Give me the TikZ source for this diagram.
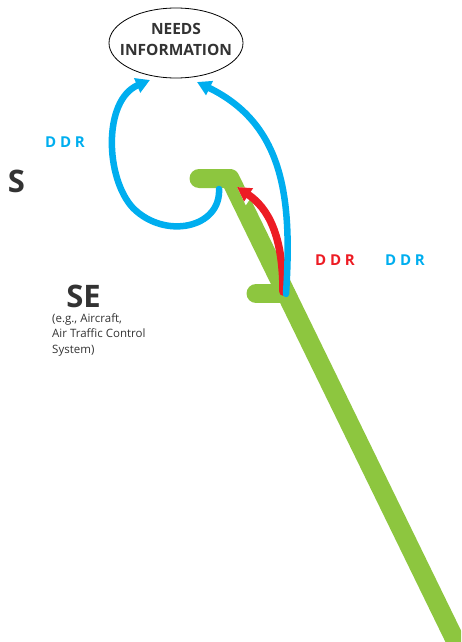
\documentclass[tikz,border=0pt]{standalone}
\usepackage{fontspec}
\setmainfont{Open Sans}
\newfontfamily\ddrfont[LetterSpace=25]{Open Sans}
\usetikzlibrary{arrows.meta,shapes.geometric}
\definecolor{ddrblue}{HTML}{00AEEF}
\definecolor{ddrred}{HTML}{ED1C24}
\definecolor{segreen}{HTML}{8DC63F}
\definecolor{labelgray}{HTML}{333333}

\begin{document}
\begin{tikzpicture}[x=1pt, y=-1pt]
	\tikzstyle{bar}=[segreen, line width=19pt, line cap=round, line join=round]
	\tikzstyle{flow}=[line cap=round, -{Triangle[length=14pt, width=15pt]},
		preaction={draw=white, -{Triangle[length=17.5pt, width=19pt]}}]
	\tikzstyle{blueflow}=[flow, ddrblue, line width=6.5pt]
	\tikzstyle{redflow}=[flow, ddrred, line width=7.5pt]
	\tikzstyle{ddr}=[font=\ddrfont\bfseries\fontsize{15}{15}\selectfont, inner sep=0pt]
	\tikzstyle{big}=[font=\bfseries\fontsize{31}{31}\selectfont, text=labelgray, inner sep=0pt]
	\useasboundingbox (0,0) rectangle (461,642);
	\clip (0,0) rectangle (461,642);
	% % Nodes
	% needs information
	\node[draw, ellipse, line width=0.8pt, minimum width=134pt, minimum height=70pt, inner sep=0pt](info)
	at (176,43) {};
	\node[align=center, inner sep=0pt, text=labelgray,
		  font=\bfseries\fontsize{15.5}{21}\selectfont](infotext)
	at (176,39) {NEEDS\\INFORMATION};
	% labels
	\node[ddr, text=ddrblue](ddrleft) at (65,142.5) {DDR};
	\node[ddr, text=ddrred](ddrred) at (335,260.5) {DDR};
	\node[ddr, text=ddrblue](ddrright) at (405,260.5) {DDR};
	\node[big](s) at (16.5,181) {S};
	\node[big](se) at (83.5,296.5) {SE};
	\node[anchor=north west, align=left, inner sep=0pt, text=labelgray,
		  font=\fontsize{11.5}{15.5}\selectfont](example)
	at (52,313) {(e.g., Aircraft,\\Air Traffic Control\\System)};
	% bars
	\coordinate (topbar) at (199,178.5);
	\coordinate (topjoint) at (230,178.5);
	\coordinate (tail) at (477,685);
	\coordinate (lowbar) at (256,293.5);
	\coordinate (lowjoint) at (286,293.5);
	\coordinate (leftout) at (219,189);
	\coordinate (rightout) at (286,294);
	\coordinate (redout) at (283,292);
	\coordinate (leftin) at ([shift={(-26,37)}]info.center);
	\coordinate (rightin) at ([shift={(21,39)}]info.center);
	\coordinate (redin) at (237,187);
	\draw[bar] (topbar) -- (topjoint) -- (tail);
	\draw[bar] (lowbar) -- (lowjoint);
	% % Connectors
	\draw[redflow] (redout) .. controls (283,235) and (268,208) .. (redin);
	\draw[blueflow] (rightout) .. controls (292,200) and (285,125) .. (rightin);
	\draw[blueflow] (leftout) .. controls (221,228) and (165,240) .. (133,208)
		.. controls (105,178) and (103,100) .. (leftin);
\end{tikzpicture}
\end{document}
